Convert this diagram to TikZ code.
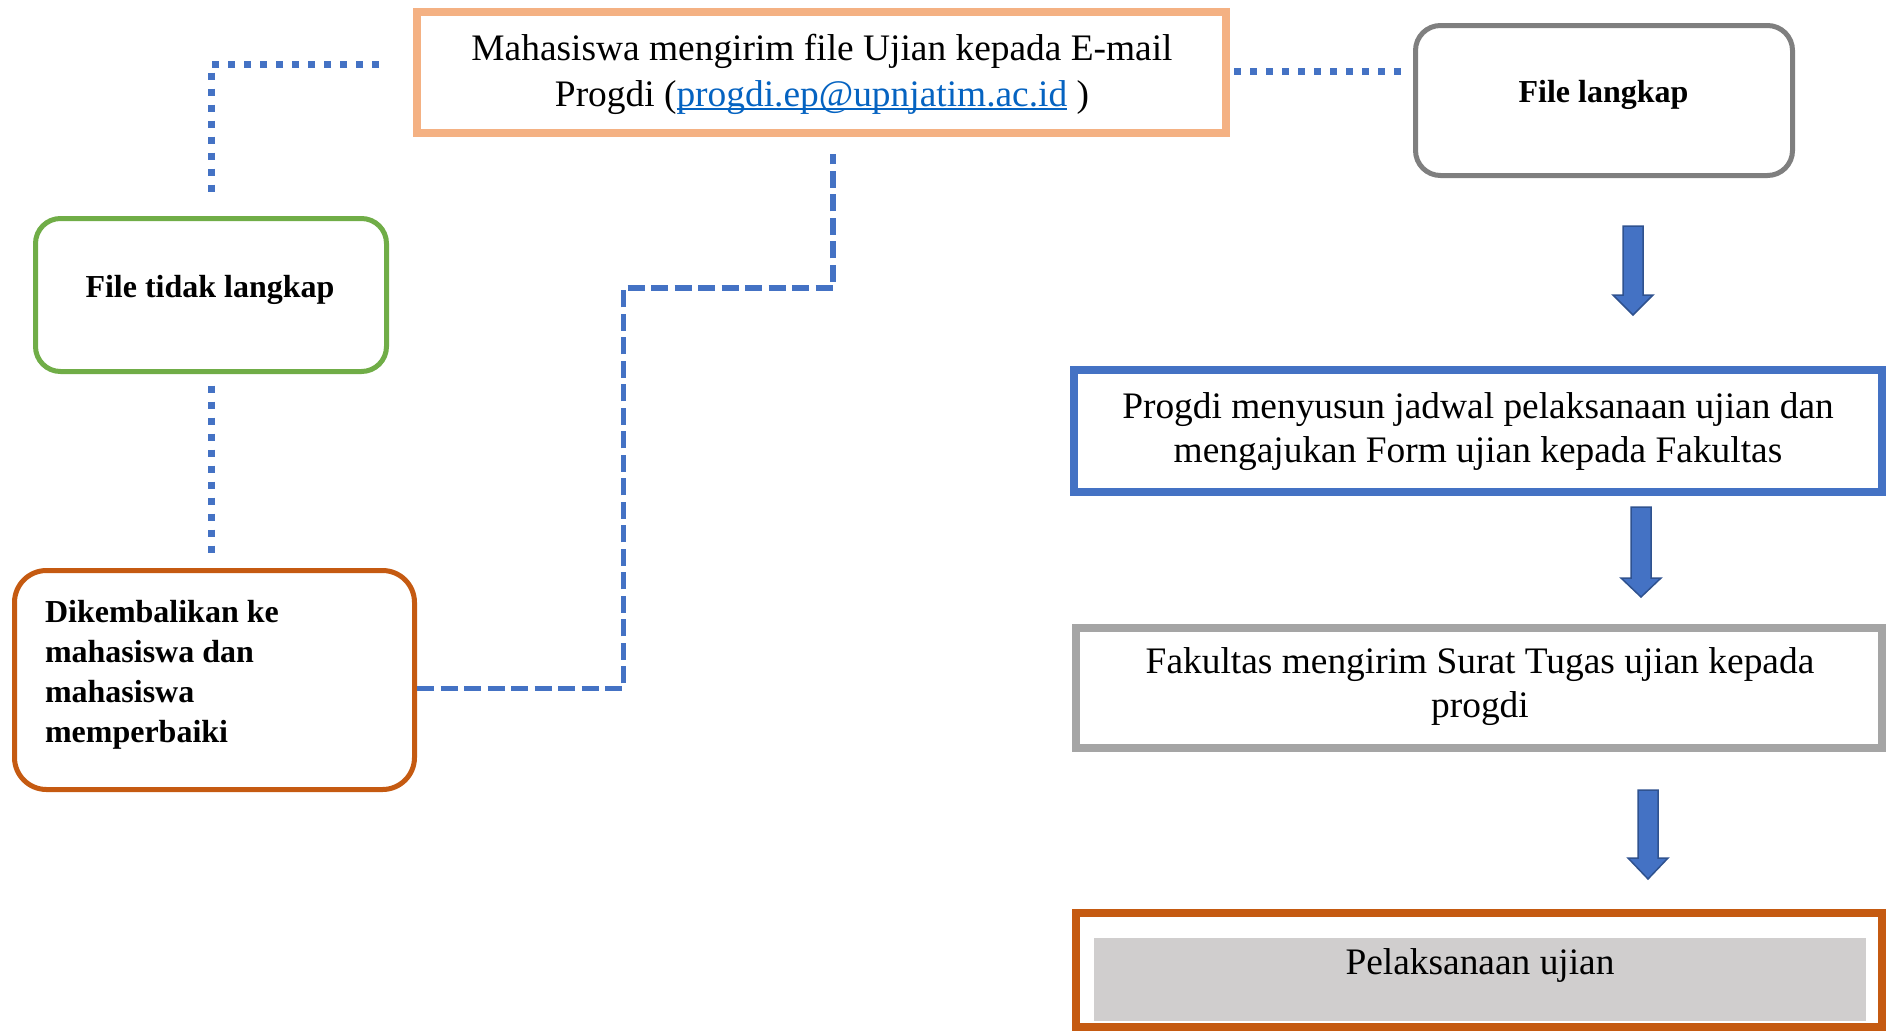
\documentclass[tikz,border=0pt]{standalone}
\usepackage{fontspec}
\setmainfont{Liberation Serif}
\usetikzlibrary{calc}
\definecolor{lorange}{HTML}{F4B183}
\definecolor{dorange}{HTML}{C55A11}
\definecolor{mgray}{HTML}{7F7F7F}
\definecolor{lgray}{HTML}{A5A5A5}
\definecolor{fgray}{HTML}{D0CECE}
\definecolor{cgreen}{HTML}{70AD47}
\definecolor{cblue}{HTML}{4472C4}
\definecolor{dblue}{HTML}{2F528F}
\definecolor{linkc}{HTML}{0563C1}
\newcommand\ulink[1]{\setbox0=\hbox{#1}\rlap{\rule[-4pt]{\wd0}{1.6pt}}\box0}
\newcommand\blockarrow[4]{% x, ytop, yhead, ytip
  \draw[barrow] (#1-10,#2) -- (#1+10,#2) -- (#1+10,#3) -- (#1+20,#3) -- (#1,#4) -- (#1-20,#3) -- (#1-10,#3) -- cycle;}
\tikzset{
  box/.style={draw, inner sep=0pt, outer sep=0pt},
  rtxt/.style={inner sep=0pt, outer sep=0pt, font=\fontsize{37.4}{46}\selectfont},
  rtxtb/.style={inner sep=0pt, outer sep=0pt, font=\fontsize{37.4}{44}\selectfont},
  btxt/.style={inner sep=0pt, outer sep=0pt, font=\fontsize{32}{40}\selectfont\bfseries},
  dotline/.style={draw=cblue, line width=7pt, dash pattern=on 7pt off 9pt},
  dashline/.style={draw=cblue, line width=5.5pt, dash pattern=on 17pt off 6.5pt},
  barrow/.style={draw=dblue, fill=cblue, line width=1.5pt, line join=miter},
}
\begin{document}
\begin{tikzpicture}[x=1pt,y=-1pt]
\useasboundingbox (0,0) rectangle (1886,1031);
% boxes
\node[box, draw=lorange, line width=8pt, minimum width=809pt, minimum height=121pt] (top) at (821.5,72.5) {};
\node[box, draw=mgray, line width=5pt, rounded corners=25pt, minimum width=377pt, minimum height=150pt] (flk) at (1604,100.5) {};
\node[box, draw=cgreen, line width=5pt, rounded corners=25pt, minimum width=351pt, minimum height=153pt] (ftl) at (211,295) {};
\node[box, draw=dorange, line width=5pt, rounded corners=32pt, minimum width=400pt, minimum height=219pt] (dik) at (214.5,680) {};
\node[box, draw=cblue, line width=8pt, minimum width=808pt, minimum height=122pt] (prog) at (1478,431) {};
\node[box, draw=lgray, line width=8pt, minimum width=806pt, minimum height=120pt] (fak) at (1479,688) {};
\node[box, draw=dorange, line width=8pt, minimum width=806pt, minimum height=114.5pt] (pel) at (1479,969.75) {};
\node[box, draw=none, fill=fgray, minimum width=772pt, minimum height=83pt] (pelfill) at (1480,979.5) {};
% texts
\node[rtxt, anchor=base] (ttop) at (822,60) {\begin{tabular}[t]{@{}c@{}}Mahasiswa mengirim file Ujian kepada E-mail\\Progdi ({\color{linkc}\ulink{progdi.ep@upnjatim.ac.id}} )\end{tabular}};
\node[btxt, anchor=base] (tflk) at (1603.5,102) {File langkap};
\node[btxt, anchor=base] (tftl) at (210,297) {File tidak langkap};
\node[btxt, anchor=base west] (tdik) at (45,622) {\begin{tabular}[t]{@{}l@{}}Dikembalikan ke\\mahasiswa dan\\mahasiswa\\memperbaiki\end{tabular}};
\node[rtxtb, anchor=base] (tprog) at (1478,418) {\begin{tabular}[t]{@{}c@{}}Progdi menyusun jadwal pelaksanaan ujian dan\\mengajukan Form ujian kepada Fakultas\end{tabular}};
\node[rtxtb, anchor=base] (tfak) at (1480,673) {\begin{tabular}[t]{@{}c@{}}Fakultas mengirim Surat Tugas ujian kepada\\progdi\end{tabular}};
\node[rtxt, anchor=base] (tpel) at (1480,974) {Pelaksanaan ujian};
% connectors
\coordinate (dikn) at ($(dik.north)+(0,-18)$);
\coordinate (bend) at (623.5,288);
\draw[dotline] ($(top.west)+(-38,-8)$) -| ($(ftl.north)+(0,-20)$);
\draw[dotline] ($(top.east)+(8,-1.5)$) -- ($(flk.west)+(-14,-29.5)$);
\draw[dotline] ($(ftl.south)+(0,14)$) -- (ftl.south |- dikn);
\draw[dashline] ($(dik.east)+(2.5,8.3)$) -| (bend) -| ($(top.south)+(11.5,21)$);
% block arrows
\blockarrow{1633}{226}{295}{315}
\blockarrow{1641}{507}{578}{597}
\blockarrow{1648}{790}{858}{879}
\end{tikzpicture}
\end{document}
